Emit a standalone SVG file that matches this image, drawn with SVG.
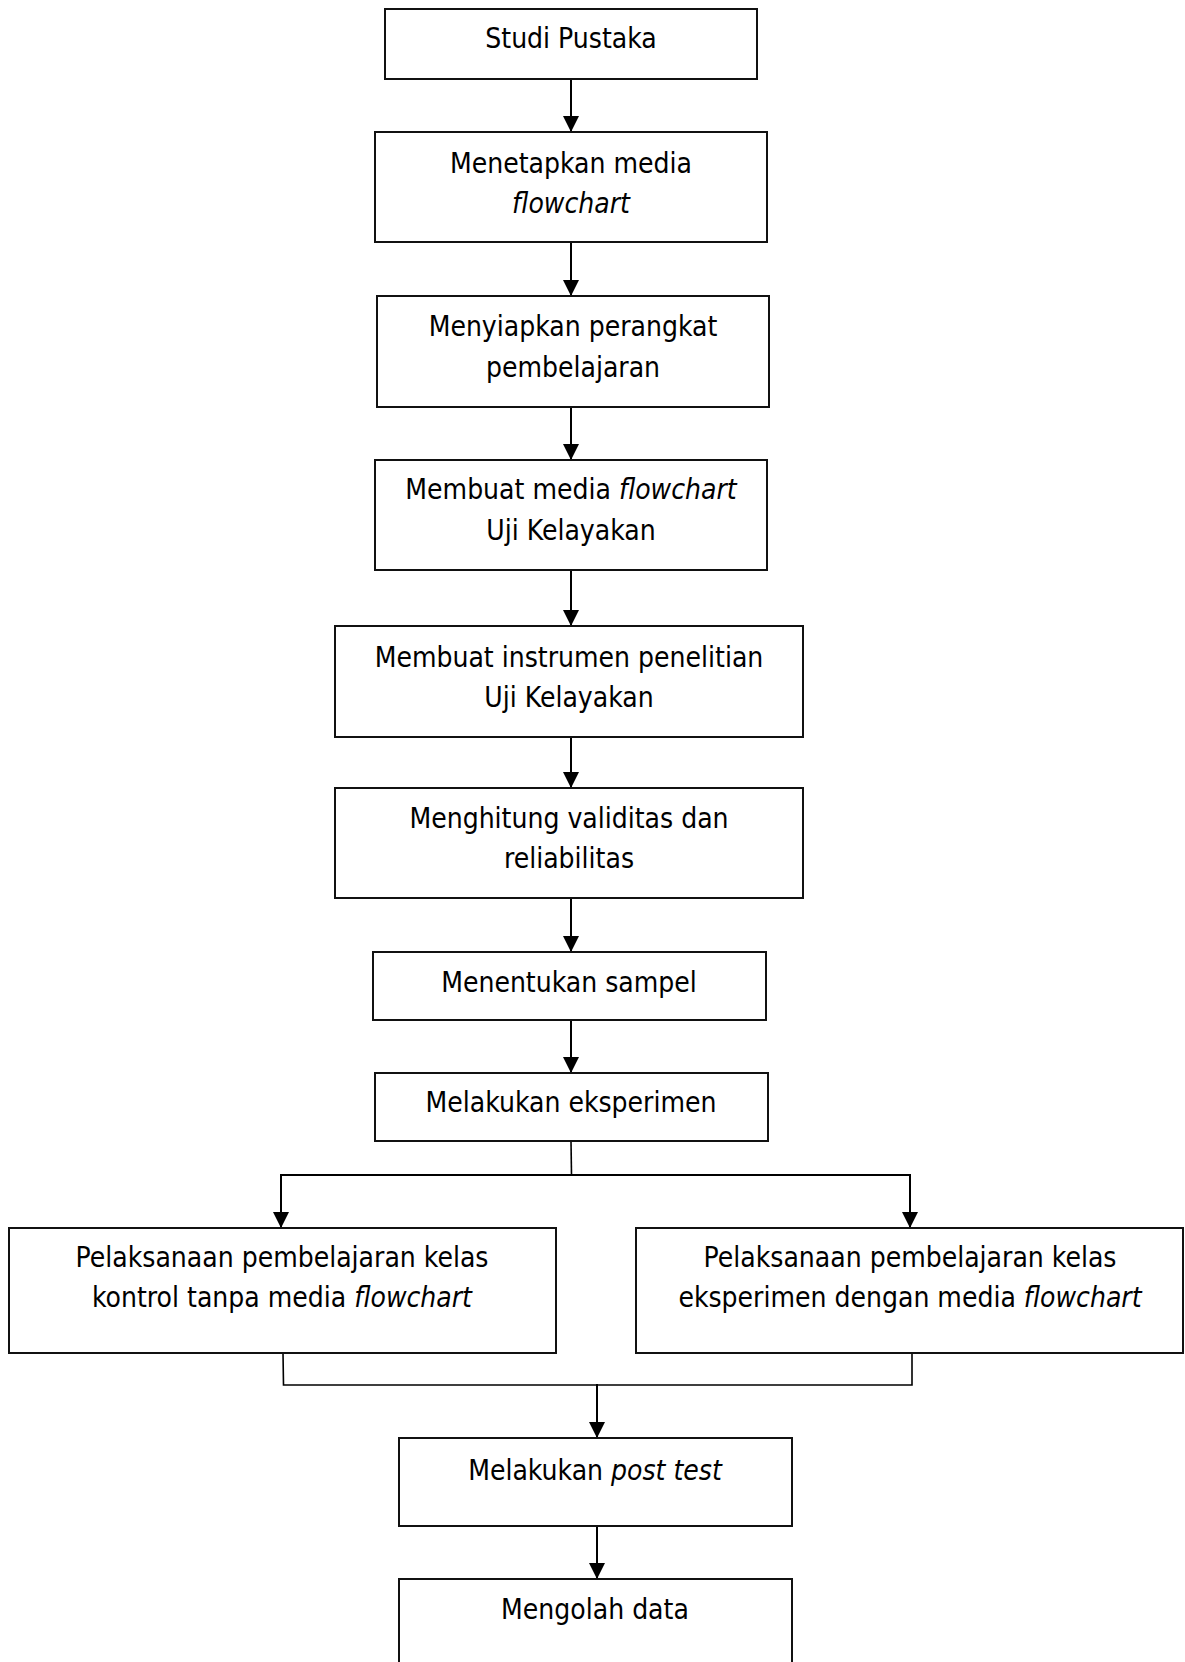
<svg xmlns="http://www.w3.org/2000/svg" width="1185" height="1662" viewBox="0 0 1185 1662">
<style>
.box{fill:#fff;stroke:#111;stroke-width:2}
.t{font-family:"DejaVu Sans Condensed","DejaVu Sans",sans-serif;font-size:28px;fill:#000;text-anchor:middle}
.i{font-style:italic}
.ln{fill:none;stroke:#000;stroke-width:2}
.thin{fill:none;stroke:#000;stroke-width:1.6}
</style>
<defs>
<marker id="ah" markerWidth="16" markerHeight="16" refX="16" refY="8" orient="auto" markerUnits="userSpaceOnUse">
<path d="M0,0 L16,8 L0,16 Z" fill="#000"/>
</marker>
</defs>
<rect width="1185" height="1662" fill="#fff"/>
<g id="connectors">
<line class="ln" x1="571" y1="79" x2="571" y2="132" marker-end="url(#ah)"/>
<line class="ln" x1="571" y1="242" x2="571" y2="296" marker-end="url(#ah)"/>
<line class="ln" x1="571" y1="407" x2="571" y2="460" marker-end="url(#ah)"/>
<line class="ln" x1="571" y1="570" x2="571" y2="626" marker-end="url(#ah)"/>
<line class="ln" x1="571" y1="737" x2="571" y2="788" marker-end="url(#ah)"/>
<line class="ln" x1="571" y1="898" x2="571" y2="952" marker-end="url(#ah)"/>
<line class="ln" x1="571" y1="1020" x2="571" y2="1073" marker-end="url(#ah)"/>
<polyline class="thin" points="571,1141 571.5,1175"/>
<polyline class="ln" points="281,1228 281,1175 910,1175 910,1228" stroke-width="2"/>
<path d="M273,1212 L289,1212 L281,1228 Z" fill="#000"/>
<path d="M902,1212 L918,1212 L910,1228 Z" fill="#000"/>
<polyline class="thin" points="283,1353 283.5,1385 912,1385 912,1353"/>
<line class="ln" x1="597" y1="1384" x2="597" y2="1438" marker-end="url(#ah)"/>
<line class="ln" x1="597" y1="1526" x2="597" y2="1579" marker-end="url(#ah)"/>
</g>
<g id="n1"><rect class="box" x="385" y="9" width="372" height="70"/>
<text class="t" x="571" y="48">Studi Pustaka</text></g>
<g id="n2"><rect class="box" x="375" y="132" width="392" height="110"/>
<text class="t" x="571" y="173">Menetapkan media</text>
<text class="t i" x="571" y="213">flowchart</text></g>
<g id="n3"><rect class="box" x="377" y="296" width="392" height="111"/>
<text class="t" x="573" y="336">Menyiapkan perangkat</text>
<text class="t" x="573" y="377">pembelajaran</text></g>
<g id="n4"><rect class="box" x="375" y="460" width="392" height="110"/>
<text class="t" x="571" y="499">Membuat media <tspan class="i">flowchart</tspan></text>
<text class="t" x="571" y="540">Uji Kelayakan</text></g>
<g id="n5"><rect class="box" x="335" y="626" width="468" height="111"/>
<text class="t" x="569" y="667">Membuat instrumen penelitian</text>
<text class="t" x="569" y="707">Uji Kelayakan</text></g>
<g id="n6"><rect class="box" x="335" y="788" width="468" height="110"/>
<text class="t" x="569" y="828">Menghitung validitas dan</text>
<text class="t" x="569" y="868">reliabilitas</text></g>
<g id="n7"><rect class="box" x="373" y="952" width="393" height="68"/>
<text class="t" x="569" y="992">Menentukan sampel</text></g>
<g id="n8"><rect class="box" x="375" y="1073" width="393" height="68"/>
<text class="t" x="571" y="1112">Melakukan eksperimen</text></g>
<g id="n9"><rect class="box" x="9" y="1228" width="547" height="125"/>
<text class="t" x="282" y="1267">Pelaksanaan pembelajaran kelas</text>
<text class="t" x="282" y="1307">kontrol tanpa media <tspan class="i">flowchart</tspan></text></g>
<g id="n10"><rect class="box" x="636" y="1228" width="547" height="125"/>
<text class="t" x="910" y="1267">Pelaksanaan pembelajaran kelas</text>
<text class="t" x="910" y="1307">eksperimen dengan media <tspan class="i">flowchart</tspan></text></g>
<g id="n11"><rect class="box" x="399" y="1438" width="393" height="88"/>
<text class="t" x="595" y="1480">Melakukan <tspan class="i">post test</tspan></text></g>
<g id="n12"><rect class="box" x="399" y="1579" width="393" height="100"/>
<text class="t" x="595" y="1619">Mengolah data</text></g>
</svg>
